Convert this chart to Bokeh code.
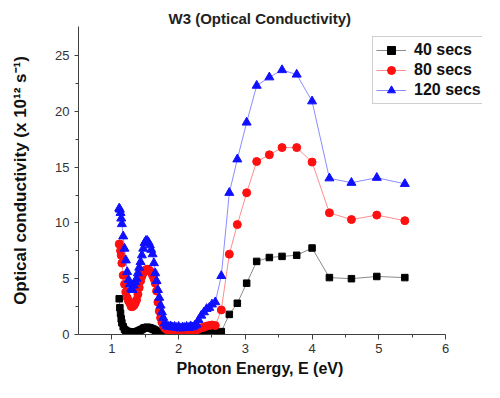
from bokeh.plotting import figure
from bokeh.models import FixedTicker, Legend, LegendItem, Range1d, Title
from bokeh.embed import file_html
from bokeh.resources import INLINE

# ---- data ----
energy = [1.11, 1.12, 1.13, 1.14, 1.15, 1.17, 1.19, 1.21, 1.23, 1.25,
          1.27, 1.29, 1.31, 1.33, 1.35, 1.37, 1.39, 1.41, 1.43, 1.45,
          1.47, 1.49, 1.51, 1.53, 1.55, 1.57, 1.59, 1.61, 1.63, 1.65,
          1.67, 1.69, 1.71, 1.73, 1.75, 1.77, 1.79, 1.82, 1.85, 1.88,
          1.91, 1.94, 1.97, 2.00, 2.03, 2.06, 2.09, 2.12, 2.15, 2.18,
          2.21, 2.24, 2.27, 2.30, 2.34, 2.38, 2.42, 2.46, 2.50, 2.55,
          2.64, 2.76, 2.88, 3.02, 3.17, 3.36, 3.55, 3.77, 4.00, 4.26,
          4.59, 4.97, 5.39]

sec40 = [3.2, 2.4, 1.9, 1.4, 1.05, 0.7, 0.45, 0.35, 0.28, 0.25,
         0.22, 0.2, 0.2, 0.2, 0.22, 0.25, 0.3, 0.35, 0.4, 0.45,
         0.55, 0.6, 0.62, 0.65, 0.62, 0.6, 0.55, 0.5, 0.45, 0.38,
         0.3, 0.22, 0.18, 0.15, 0.12, 0.1, 0.1, 0.08, 0.06, 0.05,
         0.05, 0.05, 0.05, 0.05, 0.05, 0.05, 0.06, 0.06, 0.07, 0.08,
         0.08, 0.1, 0.1, 0.12, 0.15, 0.18, 0.2, 0.22, 0.25, 0.25,
         0.26, 1.8, 2.8, 4.6, 6.55, 6.9, 7.0, 7.1, 7.75, 5.1,
         5.0, 5.2, 5.1]

sec80 = [8.1, 8.1, 7.5, 7.1, 6.4, 5.3, 4.5, 3.8, 3.3, 3.0,
         2.8, 2.5, 2.5, 2.6, 2.8, 3.1, 3.6, 4.2, 4.8, 5.2,
         5.5, 5.65, 5.8, 5.85, 5.8, 5.7, 5.55, 5.3, 5.0, 4.6,
         3.9, 2.9, 2.1, 1.5, 1.1, 0.85, 0.6, 0.45, 0.35, 0.3,
         0.25, 0.2, 0.2, 0.15, 0.15, 0.15, 0.15, 0.15, 0.2, 0.2,
         0.25, 0.3, 0.4, 0.5, 0.6, 0.65, 0.75, 0.8, 0.85, 0.8,
         2.2, 7.2, 9.85, 12.7, 15.5, 16.1, 16.75, 16.75, 15.45, 10.9,
         10.3, 10.7, 10.2]

sec120 = [11.3, 11.2, 10.9, 10.4, 9.9, 8.8, 7.7, 6.65, 5.6, 4.9,
          4.5, 4.1, 4.0, 4.4, 4.7, 5.0, 5.5, 6.0, 6.5, 7.1,
          7.7, 8.2, 8.4, 8.4, 8.25, 8.0, 7.6, 7.2, 6.4, 5.5,
          4.8, 4.0, 3.3, 2.6, 2.0, 1.5, 1.0, 0.8, 0.7, 0.75,
          0.65, 0.7, 0.6, 0.7, 0.55, 0.65, 0.6, 0.7, 0.6, 0.75,
          0.65, 0.8, 0.9, 1.3, 1.7, 2.0, 2.3, 2.4, 2.7, 2.9,
          5.25, 12.7, 15.7, 19.0, 22.3, 23.05, 23.7, 23.3, 20.9, 14.0,
          13.6, 14.05, 13.5]

series_labels = ["40 secs", "80 secs", "120 secs"]
x_ticks = [1, 2, 3, 4, 5, 6]
x_minor = [1.5, 2.5, 3.5, 4.5, 5.5]
y_ticks = [0, 5, 10, 15, 20, 25]
y_minor = [2.5, 7.5, 12.5, 17.5, 22.5]

title_text = "W3 (Optical Conductivity)"
x_label = "Photon Energy, E (eV)"
y_label = "Optical conductivity (x 10\u00b9\u00b2 s\u207b\u00b9)"

FONT = "Liberation Sans"

p = figure(width=484, height=382, output_backend="svg", toolbar_location=None,
           x_range=Range1d(0.5, 6.554), y_range=Range1d(0, 27.6),
           min_border_left=78, min_border_right=2, min_border_top=26,
           min_border_bottom=48)
p.outline_line_color = None
p.grid.visible = False
p.background_fill_color = "white"

p.title.text = title_text
p.title.align = "left"
p.title.offset = 90
p.title.standoff = 0
p.title.text_font = FONT
p.title.text_font_size = "15px"
p.title.text_font_style = "bold"
p.title.text_color = "#222222"

for ax in (p.xaxis[0], p.yaxis[0]):
    ax.axis_line_color = "#404040"
    ax.major_tick_line_color = "#404040"
    ax.minor_tick_line_color = "#404040"
    ax.major_tick_in = 0
    ax.minor_tick_in = 0
    ax.major_label_text_font = FONT
    ax.major_label_text_font_size = "13px"
    ax.major_label_text_color = "#333333"
    ax.axis_label_text_font = FONT
    ax.axis_label_text_font_style = "bold"
    ax.axis_label_text_color = "#111111"

p.xaxis.ticker = FixedTicker(ticks=x_ticks, minor_ticks=x_minor)
p.yaxis.ticker = FixedTicker(ticks=y_ticks, minor_ticks=y_minor)
p.xaxis.bounds = (0.5, 6)
p.xaxis.major_tick_out = 5
p.xaxis.minor_tick_out = 3
p.yaxis.major_tick_out = 4
p.yaxis.minor_tick_out = 3
p.xaxis.major_label_standoff = 4
p.yaxis.major_label_standoff = 5
p.yaxis.axis_label = y_label
p.yaxis.axis_label_text_font_size = "17px"
p.yaxis.axis_label_standoff = 22

# x-axis title placed under the axis, aligned like the reference
xtitle = Title(text=x_label, align="left", offset=98, standoff=4,
               text_font=FONT, text_font_size="16px", text_font_style="bold",
               text_color="#111111")
p.add_layout(xtitle, "below")

styles = [
    dict(series=sec40, line="#8a8a8a", marker="square", fill="black", size=6.5),
    dict(series=sec80, line="#ff8c8c", marker="circle", fill="#ff1010", size=8),
    dict(series=sec120, line="#8c8cff", marker="triangle", fill="#1010ff", size=9),
]

items = []
for lab, st in zip(series_labels, styles):
    lr = p.line(energy, st["series"], line_color=st["line"], line_width=1)
    sr = p.scatter(energy, st["series"], marker=st["marker"], size=st["size"],
                   fill_color=st["fill"], line_color=st["fill"])
    items.append(LegendItem(label=lab, renderers=[lr, sr]))

legend = Legend(items=items, location=(294, 230), orientation="vertical",
                label_text_font=FONT, label_text_font_size="16px",
                label_text_font_style="bold", label_text_color="#111111",
                glyph_width=30, glyph_height=20, label_height=20,
                label_standoff=8, spacing=0, padding=3, margin=0,
                border_line_color="#a0a0a0", border_line_width=1,
                background_fill_color="white", background_fill_alpha=1)
p.add_layout(legend, "center")

open("out.html", "w").write(file_html(p, INLINE))
